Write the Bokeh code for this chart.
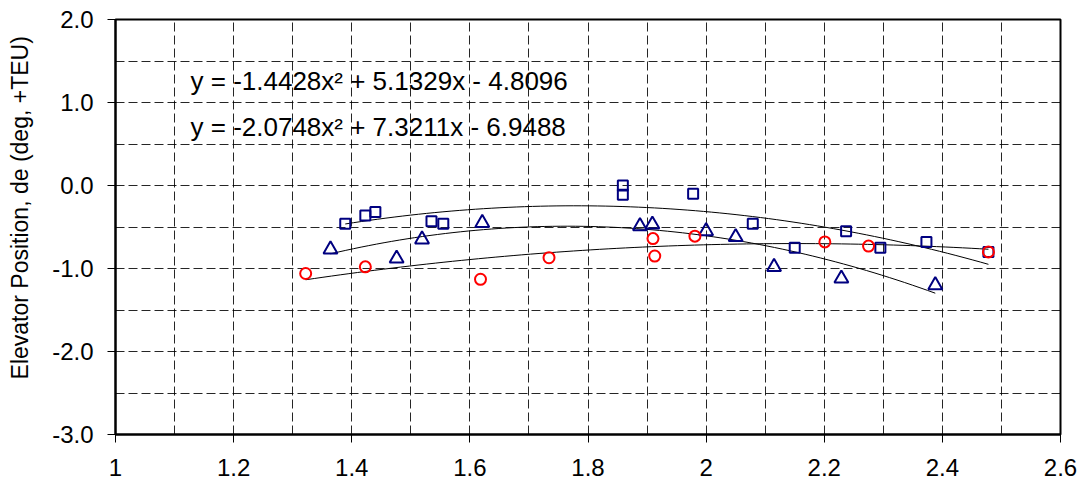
import numpy as np
from bokeh.plotting import figure
from bokeh.models import FixedTicker, Label, Range1d
from bokeh.embed import file_html
from bokeh.resources import INLINE

# ---- data ----
sq_x = [1.389, 1.423, 1.440, 1.535, 1.555, 1.859, 1.859, 1.978, 2.079, 2.150, 2.237, 2.295, 2.373, 2.478]
sq_y = [-0.46, -0.36, -0.32, -0.43, -0.46, 0.00, -0.11, -0.10, -0.46, -0.75, -0.55, -0.75, -0.68, -0.80]

tri_x = [1.364, 1.476, 1.519, 1.621, 1.888, 1.909, 2.000, 2.050, 2.115, 2.229, 2.388]
tri_y = [-0.77, -0.88, -0.65, -0.45, -0.49, -0.47, -0.55, -0.62, -0.98, -1.12, -1.20]

cir_x = [1.322, 1.423, 1.618, 1.734, 1.910, 1.913, 1.981, 2.201, 2.275, 2.478]
cir_y = [-1.06, -0.98, -1.13, -0.87, -0.64, -0.85, -0.61, -0.68, -0.73, -0.80]

# quadratic trendline coefficients (a, b, c)
fit_sq = [-1.4428, 5.1329, -4.8096]
fit_tri = [-2.0748, 7.3211, -6.9488]
fit_cir = [-0.636, 2.735, -3.640]

eq_texts = ["y = -1.4428x² + 5.1329x - 4.8096", "y = -2.0748x² + 7.3211x - 6.9488"]
y_title = "Elevator Position, de (deg, +TEU)"

x_ticks = [1.0, 1.2, 1.4, 1.6, 1.8, 2.0, 2.2, 2.4, 2.6]
x_tick_labels = ["1", "1.2", "1.4", "1.6", "1.8", "2", "2.2", "2.4", "2.6"]
y_ticks = [-3.0, -2.0, -1.0, 0.0, 1.0, 2.0]
y_tick_labels = ["-3.0", "-2.0", "-1.0", "0.0", "1.0", "2.0"]
x_grid = [1.1, 1.2, 1.3, 1.4, 1.5, 1.6, 1.7, 1.8, 1.9, 2.0, 2.1, 2.2, 2.3, 2.4, 2.5]
y_grid = [-2.5, -2.0, -1.5, -1.0, -0.5, 0.0, 0.5, 1.0, 1.5]

FONT = "Liberation Sans"

p = figure(frame_width=945, frame_height=415,
           x_range=Range1d(1.0, 2.6), y_range=Range1d(-3.0, 2.0),
           output_backend="svg", toolbar_location=None,
           min_border_top=19, min_border_left=115, min_border_right=24, min_border_bottom=48,
           background_fill_color="white", border_fill_color="white")

p.outline_line_color = "black"
p.outline_line_width = 2
p.outline_line_alpha = 1.0

# axes
p.xaxis.ticker = FixedTicker(ticks=x_ticks)
p.xaxis.major_label_overrides = dict(zip(x_ticks, x_tick_labels))
p.yaxis.ticker = FixedTicker(ticks=y_ticks)
p.yaxis.major_label_overrides = dict(zip(y_ticks, y_tick_labels))
for ax in (p.xaxis, p.yaxis):
    ax.axis_line_color = "black"
    ax.axis_line_width = 2
    ax.major_tick_line_color = "black"
    ax.major_tick_line_width = 1
    ax.major_tick_out = 8
    ax.major_tick_in = 0
    ax.minor_tick_line_color = None
    ax.major_label_text_font = FONT
    ax.major_label_text_font_size = "24px"
    ax.major_label_text_color = "black"
p.xaxis.major_label_standoff = 16
p.yaxis.major_label_standoff = 14

# y-axis title (leading no-break spaces nudge it upward, as in the reference)
p.yaxis.axis_label = "\u00a0" * 6 + y_title
p.yaxis.axis_label_text_font = FONT
p.yaxis.axis_label_text_font_size = "23px"
p.yaxis.axis_label_text_font_style = "normal"
p.yaxis.axis_label_text_color = "black"
p.yaxis.axis_label_standoff = 16

# grids
p.xgrid.ticker = FixedTicker(ticks=x_grid)
p.ygrid.ticker = FixedTicker(ticks=y_grid)
for g in (p.xgrid, p.ygrid):
    g.grid_line_color = "black"
    g.grid_line_alpha = 0.85
    g.grid_line_width = 1
    g.grid_line_dash = "9 4"

# trendlines
def trend(coefs, xs):
    xx = np.linspace(min(xs), max(xs), 80)
    return xx, np.polyval(coefs, xx)

for coefs, xs in ((fit_sq, sq_x), (fit_tri, tri_x), (fit_cir, cir_x)):
    tx, ty = trend(coefs, xs)
    p.line(tx, ty, line_color="black", line_width=1)

# markers
p.scatter(sq_x, sq_y, marker="square", size=10, fill_color=None,
          line_color="#000080", line_width=2)
p.scatter(tri_x, tri_y, marker="triangle", size=14, fill_color=None,
          line_color="#000080", line_width=2)
p.scatter(cir_x, cir_y, marker="circle", size=11, fill_color=None,
          line_color="#FF0000", line_width=2)

# equation labels
for txt, yy in zip(eq_texts, [1.26, 0.70]):
    p.add_layout(Label(x=1.127, y=yy, text=txt, text_font=FONT,
                       text_font_size="26px", text_color="black",
                       text_baseline="alphabetic", text_align="left"))

open("out.html", "w").write(file_html(p, INLINE))
